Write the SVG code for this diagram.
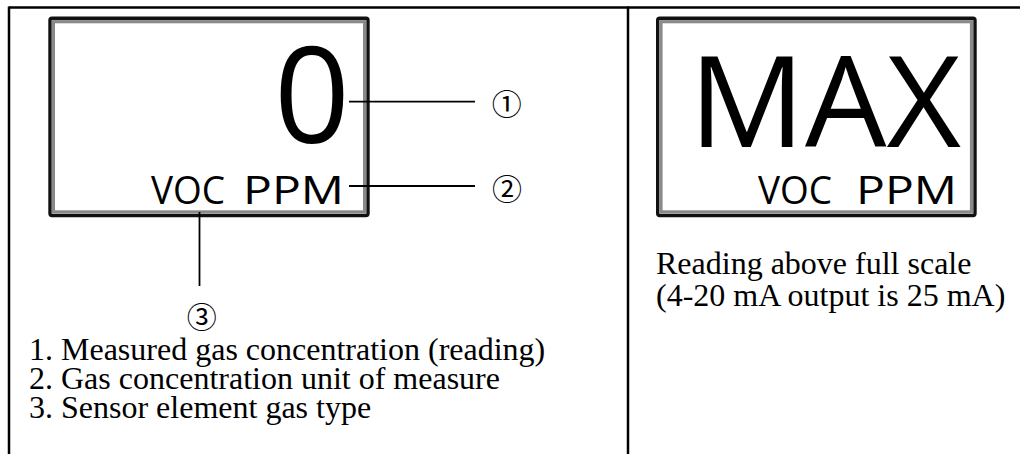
<svg xmlns="http://www.w3.org/2000/svg" width="1020" height="454" viewBox="0 0 1020 454">
<style>
.frame{stroke:#000;stroke-width:2.5;fill:none}
.bo{fill:none;stroke:#111;stroke-width:3.4}
.bi{fill:none;stroke:#8a8a8a;stroke-width:3.2}
.disp{font-family:"Open Sans","Noto Sans",sans-serif;fill:#000}
.lead{stroke:#000;stroke-width:1.8;fill:none}
.circ{font-family:"Noto Sans CJK SC","DejaVu Sans",sans-serif;font-size:30px;fill:#000}
.cap{font-family:"Liberation Serif","Times New Roman",serif;font-size:32px;fill:#000}
</style>
<rect width="1020" height="454" fill="#fff"/>
<g id="frame">
<line class="frame" x1="9" y1="7.5" x2="1020" y2="7.5"/>
<line class="frame" x1="9" y1="6.5" x2="9" y2="454"/>
<line class="frame" x1="628" y1="6.5" x2="628" y2="454"/>
</g>
<g id="display-left">
<rect class="bo" x="50" y="18.3" width="318" height="197.2" rx="2"/>
<rect class="bi" x="53.4" y="21.7" width="311.2" height="190.2"/>
<text class="disp" x="350" y="143" font-size="133" text-anchor="end">0</text>
<text class="disp" y="204" font-size="39"><tspan x="151" textLength="74" lengthAdjust="spacingAndGlyphs">VOC</tspan> <tspan x="243" textLength="101" lengthAdjust="spacingAndGlyphs">PPM</tspan></text>
</g>
<g id="display-right">
<rect class="bo" x="657.7" y="18.3" width="317.3" height="197.2" rx="2"/>
<rect class="bi" x="661" y="21.7" width="310.5" height="190.2"/>
<text class="disp" x="825" y="147" font-size="126" text-anchor="middle" textLength="272" lengthAdjust="spacingAndGlyphs">MAX</text>
<text class="disp" y="204" font-size="39"><tspan x="758" textLength="74" lengthAdjust="spacingAndGlyphs">VOC</tspan> <tspan x="856" textLength="101" lengthAdjust="spacingAndGlyphs">PPM</tspan></text>
</g>
<g id="connectors">
<line class="lead" x1="349" y1="101.7" x2="475" y2="101.7"/>
<line class="lead" x1="349" y1="186" x2="475" y2="186"/>
<line class="lead" x1="199.5" y1="212" x2="199.5" y2="286"/>
</g>
<g id="callout-1"><text class="circ" x="506.7" y="101.7" text-anchor="middle" dominant-baseline="central">①</text></g>
<g id="callout-2"><text class="circ" x="507" y="186.7" text-anchor="middle" dominant-baseline="central">②</text></g>
<g id="callout-3"><text class="circ" x="201.7" y="315" text-anchor="middle" dominant-baseline="central">③</text></g>
<g id="legend">
<text class="cap" x="29" y="360">1. Measured gas concentration (reading)</text>
<text class="cap" x="29" y="389">2. Gas concentration unit of measure</text>
<text class="cap" x="29" y="418">3. Sensor element gas type</text>
</g>
<g id="note">
<text class="cap" x="656" y="274">Reading above full scale</text>
<text class="cap" x="656" y="306">(4-20 mA output is 25 mA)</text>
</g>
</svg>
